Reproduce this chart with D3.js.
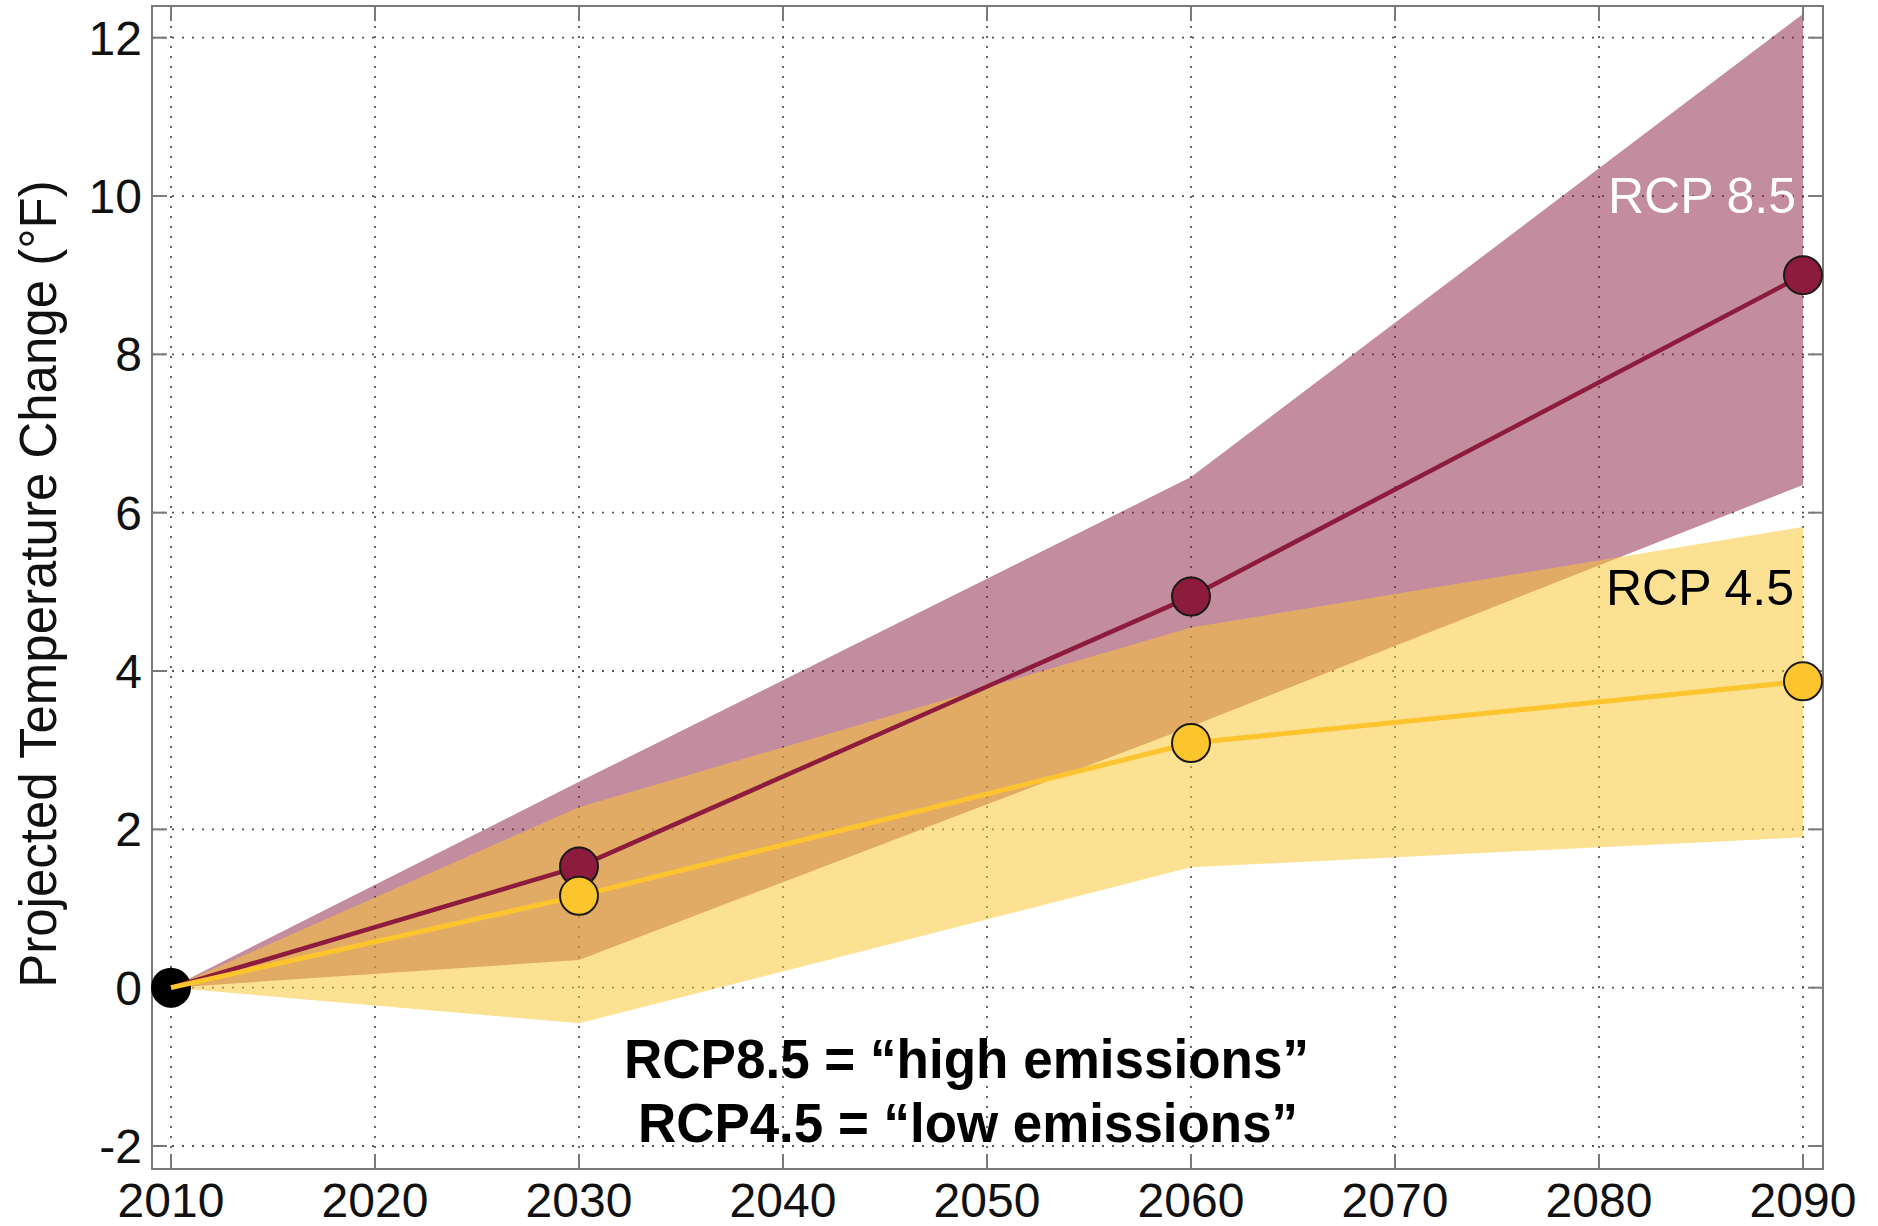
<!DOCTYPE html>
<html><head><meta charset="utf-8">
<script src="https://cdn.jsdelivr.net/npm/d3@7"></script>
<style>html,body{margin:0;padding:0;background:#fff;}svg{display:block;font-family:"Liberation Sans",Arial,Helvetica,sans-serif;}</style>
</head><body>
<svg id="chart" width="1878" height="1226"></svg>
<script>
// ---- data ----
const years = [2010, 2030, 2060, 2090];
const rcp85Mean  = [0, 1.53, 4.94, 9.0];
const rcp85Upper = [0, 2.6, 6.45, 12.3];
const rcp85Lower = [0, 0.35, 3.3, 6.35];
const rcp45Mean  = [0, 1.16, 3.09, 3.87];
const rcp45Upper = [0, 2.28, 4.55, 5.82];
const rcp45Lower = [0, -0.45, 1.52, 1.9];
const xTicks = [2010, 2020, 2030, 2040, 2050, 2060, 2070, 2080, 2090];
const yTicks = [-2, 0, 2, 4, 6, 8, 10, 12];
const yTitle = "Projected Temperature Change (°F)";
const note1 = "RCP8.5 = “high emissions”";
const note2 = "RCP4.5 = “low emissions”";

// ---- layout ----
const box = {l: 152, r: 1823, t: 6, b: 1169};
const x = d3.scaleLinear().domain([2010, 2090]).range([171, 1803]);
const y = d3.scaleLinear().domain([-2, 12]).range([1146, 37.7]);
const svg = d3.select("#chart");

const purple = "#8c1b3e", yellow = "#fcc52d";

// grid
const grid = svg.append("g");
grid.selectAll(".gx").data(xTicks).join("line")
  .attr("x1", d => x(d)).attr("x2", d => x(d)).attr("y1", box.t).attr("y2", box.b)
  .attr("stroke", "#555").attr("stroke-width", 1.8).attr("stroke-dasharray", "2,8");
grid.selectAll(".gy").data(yTicks).join("line")
  .attr("y1", d => y(d)).attr("y2", d => y(d)).attr("x1", box.l).attr("x2", box.r)
  .attr("stroke", "#555").attr("stroke-width", 1.8).attr("stroke-dasharray", "2,8");

// bands
const area = (up, lo) => d3.area().x((d, i) => x(years[i])).y0((d, i) => y(lo[i])).y1((d, i) => y(up[i]))(years);
svg.append("path").attr("d", area(rcp85Upper, rcp85Lower)).attr("fill", "rgb(138,27,63)").attr("fill-opacity", 0.5);
svg.append("path").attr("d", area(rcp45Upper, rcp45Lower)).attr("fill", "rgb(251,198,49)").attr("fill-opacity", 0.53);

// axes box & ticks
svg.append("rect").attr("x", box.l).attr("y", box.t).attr("width", box.r - box.l).attr("height", box.b - box.t)
  .attr("fill", "none").attr("stroke", "#7a7a7a").attr("stroke-width", 2);
const tl = 15;
const ticks = svg.append("g").attr("stroke", "#7a7a7a").attr("stroke-width", 2);
xTicks.forEach(d => {
  ticks.append("line").attr("x1", x(d)).attr("x2", x(d)).attr("y1", box.b).attr("y2", box.b - tl);
  ticks.append("line").attr("x1", x(d)).attr("x2", x(d)).attr("y1", box.t).attr("y2", box.t + tl);
});
yTicks.forEach(d => {
  ticks.append("line").attr("y1", y(d)).attr("y2", y(d)).attr("x1", box.l).attr("x2", box.l + tl);
  ticks.append("line").attr("y1", y(d)).attr("y2", y(d)).attr("x1", box.r).attr("x2", box.r - tl);
});

// tick labels
svg.append("g").selectAll("text").data(xTicks).join("text")
  .attr("x", d => x(d)).attr("y", 1217).attr("text-anchor", "middle")
  .attr("font-size", 48).attr("fill", "#111").text(d => String(d));
svg.append("g").selectAll("text").data(yTicks).join("text")
  .attr("x", 142).attr("y", d => y(d) + 17).attr("text-anchor", "end")
  .attr("font-size", 48).attr("fill", "#111").text(d => String(d));

// y title
svg.append("text").attr("transform", "translate(56,584) rotate(-90)")
  .attr("text-anchor", "middle").attr("font-size", 51).attr("fill", "#111").text(yTitle);

// origin marker
svg.append("circle").attr("cx", x(years[0])).attr("cy", y(0)).attr("r", 20).attr("fill", "#000");

const line = vals => d3.line().x((d, i) => x(years[i])).y((d, i) => y(vals[i]))(years);
svg.append("path").attr("d", line(rcp85Mean)).attr("fill", "none").attr("stroke", purple).attr("stroke-width", 4.5);
svg.selectAll(".m85").data(years.slice(1)).join("circle")
  .attr("cx", d => x(d)).attr("cy", (d, i) => y(rcp85Mean[i + 1])).attr("r", 19)
  .attr("fill", purple).attr("stroke", "#1a1a1a").attr("stroke-width", 2);
svg.append("path").attr("d", line(rcp45Mean)).attr("fill", "none").attr("stroke", yellow).attr("stroke-width", 5);
svg.selectAll(".m45").data(years.slice(1)).join("circle")
  .attr("cx", d => x(d)).attr("cy", (d, i) => y(rcp45Mean[i + 1])).attr("r", 19)
  .attr("fill", yellow).attr("stroke", "#1a1a1a").attr("stroke-width", 2);

// series labels
svg.append("text").attr("x", 1796).attr("y", 213).attr("text-anchor", "end")
  .attr("font-size", 50).attr("fill", "#fff").text("RCP 8.5");
svg.append("text").attr("x", 1794).attr("y", 605).attr("text-anchor", "end")
  .attr("font-size", 50).attr("fill", "#000").text("RCP 4.5");

// notes
svg.append("text").attr("x", 624).attr("y", 1078).attr("font-size", 56).attr("font-weight", "bold")
  .attr("textLength", 685).attr("lengthAdjust", "spacingAndGlyphs").attr("fill", "#000").text(note1);
svg.append("text").attr("x", 638).attr("y", 1142).attr("font-size", 56).attr("font-weight", "bold")
  .attr("textLength", 660).attr("lengthAdjust", "spacingAndGlyphs").attr("fill", "#000").text(note2);
</script>
</body></html>
